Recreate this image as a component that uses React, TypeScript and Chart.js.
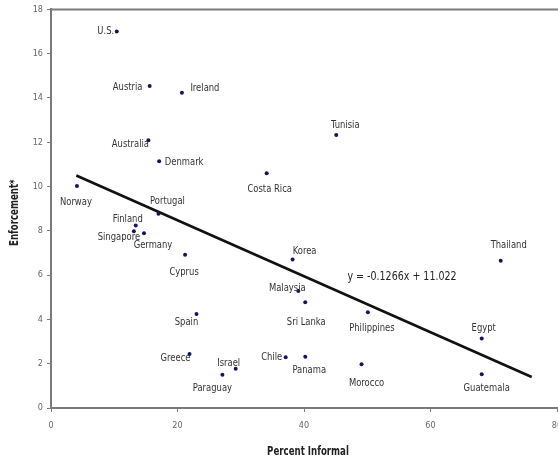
import React, { useEffect, useRef } from "react";
import { Chart, registerables } from "chart.js";

Chart.register(...registerables);

const countries = [
  "U.S.", "Austria", "Ireland", "Australia", "Denmark", "Costa Rica", "Norway", "Portugal",
  "Tunisia", "Finland", "Singapore", "Germany", "Cyprus", "Spain", "Greece", "Israel",
  "Paraguay", "Korea", "Thailand", "Malaysia", "Sri Lanka", "Philippines", "Egypt", "Chile",
  "Panama", "Morocco", "Guatemala",
];
const percentInformal = [
  10.4, 15.6, 20.7, 15.4, 17.1, 34.1, 4.1, 17.0,
  45.1, 13.4, 13.1, 14.7, 21.2, 23.0, 21.9, 29.2,
  27.1, 38.2, 71.1, 39.1, 40.2, 50.1, 68.1, 37.1,
  40.2, 49.1, 68.1,
];
const enforcement = [
  17.0, 14.54, 14.24, 12.09, 11.14, 10.6, 10.03, 8.77,
  12.33, 8.24, 7.98, 7.89, 6.92, 4.25, 2.44, 1.77,
  1.5, 6.71, 6.65, 5.28, 4.77, 4.32, 3.14, 2.29,
  2.31, 1.98, 1.52,
];
const trendX = [4, 76];
const trendY = [10.5, 1.4];
const equationText = "y = -0.1266x + 11.022";
const equationAt = [55.5, 5.9];
const yTicks = [0, 2, 4, 6, 8, 10, 12, 14, 16, 18];
const xTicks = [0, 20, 40, 60, 80];
const xTitle = "Percent Informal";
const yTitle = "Enforcement*";

// label placement relative to each point (pixels): [dx, dy]
const labelOffsets: [number, number][] = [
  [-11, 0], [-22, 1], [23, -5], [-18, 4], [25, 1], [3, 16], [-1, 16], [9, -13],
  [9, -10], [-8, -6], [-15, 6], [9, 12], [-1, 17], [-10, 8], [-14, 4], [-7, -6],
  [-10, 13], [12, -8], [8, -16], [-11, -3], [1, 20], [4, 16], [2, -10], [-14, 0],
  [4, 13], [5, 19], [5, 14],
];

const FONT = '"DejaVu Sans Condensed", "DejaVu Sans", sans-serif';
const AXIS_COLOR = "#7a7a7a";

function drawNarrow(ctx: CanvasRenderingContext2D, text: string, x: number, y: number, sx: number, rot = 0) {
  ctx.save();
  ctx.translate(x, y);
  if (rot) ctx.rotate(rot);
  ctx.scale(sx, 1);
  ctx.fillText(text, 0, 0);
  ctx.restore();
}

const labelPlugin = {
  id: "pointLabels",
  afterDatasetsDraw(chart: any) {
    const ctx = chart.ctx;
    const meta = chart.getDatasetMeta(0);
    const area = chart.chartArea;
    ctx.save();
    ctx.textAlign = "center";
    ctx.textBaseline = "middle";
    ctx.font = `11px ${FONT}`;
    ctx.fillStyle = "#333";
    meta.data.forEach((pt: any, i: number) => {
      const [dx, dy] = labelOffsets[i];
      drawNarrow(ctx, countries[i], pt.x + dx, pt.y + dy, 0.85);
    });
    const xs = chart.scales.x;
    const ys = chart.scales.y;
    ctx.font = `12px ${FONT}`;
    ctx.fillStyle = "#222";
    drawNarrow(ctx, equationText, xs.getPixelForValue(equationAt[0]), ys.getPixelForValue(equationAt[1]), 0.88);
    // axis titles
    ctx.font = `bold 12px ${FONT}`;
    ctx.fillStyle = "#222";
    drawNarrow(ctx, xTitle, (area.left + area.right) / 2 + 4, 452, 0.8);
    drawNarrow(ctx, yTitle, 15, (area.top + area.bottom) / 2 + 4, 0.8, -Math.PI / 2);
    // top border
    ctx.strokeStyle = AXIS_COLOR;
    ctx.lineWidth = 2;
    ctx.beginPath();
    ctx.moveTo(area.left, area.top);
    ctx.lineTo(area.right + 20, area.top);
    ctx.stroke();
    ctx.restore();
  },
};

export default function App() {
  const ref = useRef<HTMLCanvasElement | null>(null);
  useEffect(() => {
    if (!ref.current) return;
    const chart = new Chart(ref.current, {
      type: "scatter",
      data: {
        datasets: [
          {
            label: "Countries",
            data: percentInformal.map((x, i) => ({ x, y: enforcement[i] })),
            pointRadius: 2,
            pointBackgroundColor: "#15155a",
            pointBorderWidth: 0,
            showLine: false,
          },
          {
            label: "Trend",
            data: trendX.map((x, i) => ({ x, y: trendY[i] })),
            showLine: true,
            borderColor: "#111",
            borderWidth: 2.5,
            pointRadius: 0,
          },
        ],
      },
      options: {
        animation: false,
        responsive: false,
        layout: { padding: { left: 0, top: 9, right: 18, bottom: 0 } },
        plugins: { legend: { display: false }, tooltip: { enabled: false } },
        scales: {
          x: {
            type: "linear",
            min: 0,
            max: 80,
            afterBuildTicks: (s: any) => { s.ticks = xTicks.map((v) => ({ value: v })); },
            afterFit: (s: any) => { s.height = 54; },
            grid: { drawOnChartArea: false, drawTicks: true, tickLength: 4, color: AXIS_COLOR },
            border: { display: true, color: AXIS_COLOR, width: 2 },
            ticks: { color: "#666", font: { family: FONT, size: 9 }, padding: 8, maxRotation: 0 },
            title: { display: false },
          },
          y: {
            type: "linear",
            min: 0,
            max: 18,
            afterBuildTicks: (s: any) => { s.ticks = yTicks.map((v) => ({ value: v })); },
            afterFit: (s: any) => { s.width = 51; },
            grid: { drawOnChartArea: false, drawTicks: true, tickLength: 4, color: AXIS_COLOR },
            border: { display: true, color: AXIS_COLOR, width: 2 },
            ticks: { color: "#666", font: { family: FONT, size: 9 }, padding: 4 },
            title: { display: false },
          },
        },
      },
      plugins: [labelPlugin],
    } as any);
    return () => chart.destroy();
  }, []);
  return (
    <div style={{ position: "fixed", left: 0, top: 0, width: 558, height: 462, overflow: "hidden", background: "#fff" }}>
      <canvas ref={ref} width={575} height={462} style={{ width: 575, height: 462, display: "block" }} />
    </div>
  );
}
